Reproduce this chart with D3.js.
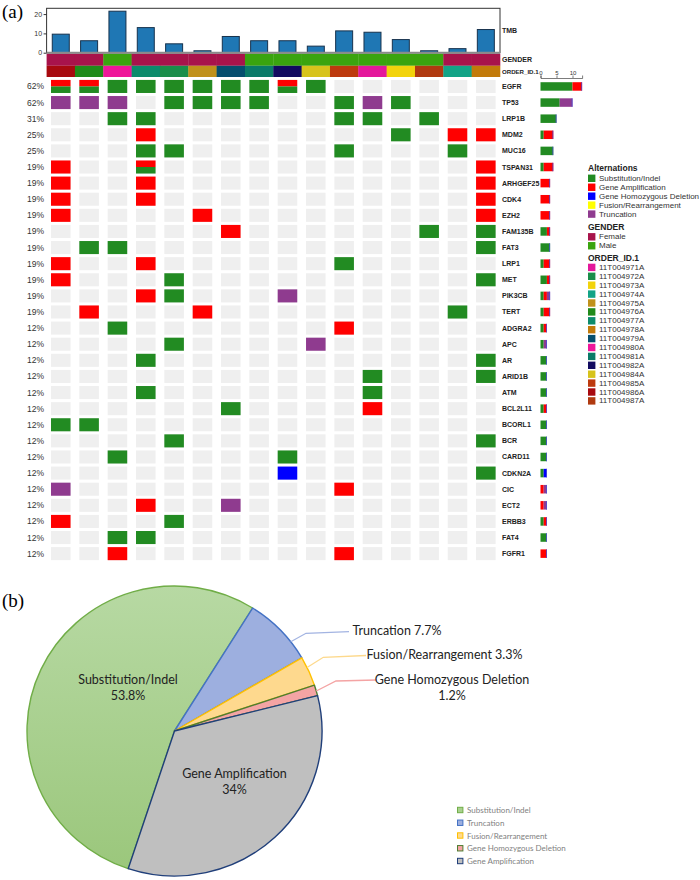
<!DOCTYPE html>
<html><head><meta charset="utf-8">
<script src="https://cdn.jsdelivr.net/npm/d3@7"></script>
<style>body{margin:0;background:#fff;} svg{display:block;}</style>
</head><body>
<svg id="c" width="700" height="880"></svg>
<script>
// ---------- DATA ----------
const sampleIds = ["11T004986A","11T004976A","11T004980A","11T004977A","11T004972A","11T004975A","11T004979A","11T004981A","11T004982A","11T004984A","11T004985A","11T004971A","11T004973A","11T004987A","11T004974A","11T004978A"];
const tmbValues = [9.6,6.2,21.5,13.0,4.6,1.0,8.4,6.2,6.2,3.4,11.3,10.6,6.8,1.0,2.1,12.0];
const sampleGender = ["Female","Female","Male","Female","Female","Female","Female","Male","Male","Male","Male","Male","Male","Male","Female","Female"];
const genes = ["EGFR","TP53","LRP1B","MDM2","MUC16","TSPAN31","ARHGEF25","CDK4","EZH2","FAM135B","FAT3","LRP1","MET","PIK3CB","TERT","ADGRA2","APC","AR","ARID1B","ATM","BCL2L11","BCORL1","BCR","CARD11","CDKN2A","CIC","ECT2","ERBB3","FAT4","FGFR1"];
const genePercent = ["62%","62%","31%","25%","25%","19%","19%","19%","19%","19%","19%","19%","19%","19%","19%","12%","12%","12%","12%","12%","12%","12%","12%","12%","12%","12%","12%","12%","12%","12%"];
// codes: S=Substitution/Indel, A=Gene Amplification, D=Gene Homozygous Deletion, F=Fusion, T=Truncation, X=Amplification+Substitution, .=none
const alterationRows = [
  "XXSSSSSSXS......",
  "TTT.SSSS..STS...",
  "..SS......SS.S..",
  "...A........S.AA",
  "...SS.....S...S.",
  "A..X...........A",
  "A..A...........A",
  "A..A...........A",
  "A....A.........A",
  "......A......S.S",
  ".SS............S",
  "A..A......S.....",
  "A...S..........S",
  "...AS...T.......",
  ".A...A........S.",
  "..S.......A.....",
  "....S....T......",
  "...S...........S",
  "...........S...S",
  "...S.......S....",
  "......S....A....",
  "SS..............",
  "....S..........S",
  "..S.....S.......",
  "........D......S",
  "T.........A.....",
  "...A..T.........",
  "A...S...........",
  "..SS............",
  "..A.......A....."
];
const altCodes = ["S","A","D","F","T"];
const altNames = ["Substitution/Indel","Gene Amplification","Gene Homozygous Deletion","Fusion/Rearrangement","Truncation"];
const altColors = ["#228b22","#ff0000","#0000ff","#ffff00","#8f3b8f"];
const genderNames = ["Female","Male"];
const genderColors = ["#a8134b","#3aa40f"];
const orderIds = ["11T004971A","11T004972A","11T004973A","11T004974A","11T004975A","11T004976A","11T004977A","11T004978A","11T004979A","11T004980A","11T004981A","11T004982A","11T004984A","11T004985A","11T004986A","11T004987A"];
const orderColors = ["#e4189b","#1a8e4a","#f2d30c","#12a386","#c0911a","#218a1a","#0c8b6c","#c27a0a","#054e6e","#ef169a","#0a7a68","#120b60","#d7c31b","#bd3a0e","#a8090f","#b03a10"];
const tmbTicks = [0,10,20];
const countTicks = [0,5,10];

const pieLabels = ["Substitution/Indel","Truncation","Fusion/Rearrangement","Gene Homozygous Deletion","Gene Amplification"];
const pieValues = [53.8, 7.7, 3.3, 1.2, 34];
const pieFills = ["#a9d18e","#9dafdf","#fed98e","#f4a4a4","#bfbfbf"];
const pieStrokes = ["#70ad47","#4472c4","#ffc000","#4f7d31","#203f7a"];
const pieLabelText = ["53.8%","7.7%","3.3%","1.2%","34%"];

// ---------- PANEL (a) ----------
const svg = d3.select("#c");
const SANS = "'Liberation Sans', Arial, sans-serif";
const SERIF = "'Liberation Serif', 'Times New Roman', serif";

svg.append("text").attr("x",2).attr("y",18).attr("font-family",SERIF).attr("font-size",19).text("(a)");

const X0 = 46.6, X1 = 500;
const xFull = d3.scaleBand().domain(d3.range(16)).range([X0, X1]);
const xCell = d3.scaleBand().domain(d3.range(16)).range([X0, X1]).paddingInner(0.31).paddingOuter(0.155);
const xBar = d3.scaleBand().domain(d3.range(16)).range([X0, X1]).paddingInner(0.4).paddingOuter(0.2);
const yTmb = d3.scaleLinear().domain([0,23]).range([52.7, 8.3]);

// TMB frame
svg.append("rect").attr("x",X0).attr("y",yTmb(23)).attr("width",X1-X0).attr("height",yTmb(0)-yTmb(23))
  .attr("fill","none").attr("stroke","#333").attr("stroke-width",1);
const yAx = svg.append("g").attr("transform",`translate(${X0},0)`)
  .call(d3.axisLeft(yTmb).tickValues(tmbTicks).tickSize(3).tickPadding(1.5));
yAx.select(".domain").remove();
yAx.selectAll("text").attr("font-family",SANS).attr("font-size",7).attr("fill","#333");
yAx.selectAll("line").attr("stroke","#333");

svg.append("g").selectAll("rect").data(tmbValues).join("rect")
  .attr("x",(d,i)=>xBar(i)).attr("y",d=>yTmb(d))
  .attr("width",xBar.bandwidth()).attr("height",d=>yTmb(0)-yTmb(d))
  .attr("fill","#1f77b4").attr("stroke","#17324d").attr("stroke-width",1);

// gender & order rows
const genderColor = d3.scaleOrdinal().domain(genderNames).range(genderColors);
const orderColor = d3.scaleOrdinal().domain(orderIds).range(orderColors);
svg.append("g").selectAll("rect").data(sampleGender).join("rect")
  .attr("x",(d,i)=>xFull(i)).attr("y",53.6).attr("width",xFull.bandwidth()+0.3).attr("height",12.2)
  .attr("fill",d=>genderColor(d));
svg.append("g").selectAll("rect").data(sampleIds).join("rect")
  .attr("x",(d,i)=>xFull(i)).attr("y",65.8).attr("width",xFull.bandwidth()+0.3).attr("height",11.2)
  .attr("fill",d=>orderColor(d));
svg.append("line").attr("x1",X0).attr("x2",X1).attr("y1",yTmb(0)).attr("y2",yTmb(0))
  .attr("stroke","#8a8a8a").attr("stroke-width",2);

// side labels
const sideLab = [["TMB",30,7],["GENDER",59.6,7],["ORDER_ID.1",71.6,6.1]];
svg.append("g").selectAll("text").data(sideLab).join("text")
  .attr("x",502).attr("y",d=>d[1]).attr("dominant-baseline","central")
  .attr("font-family",SANS).attr("font-weight","bold").attr("font-size",d=>d[2]).attr("fill","#222")
  .text(d=>d[0]);

// oncoprint grid
const yRow = d3.scaleBand().domain(genes).range([78.4, 78.4+30*16.11]).paddingInner(0.19).paddingOuter(0.095);
const altColor = d3.scaleOrdinal().domain(altCodes).range(altColors);
const grid = svg.append("g");
genes.forEach((g,gi)=>{
  const row = alterationRows[gi].split("");
  const y = yRow(g), h = yRow.bandwidth();
  const rg = grid.append("g");
  rg.selectAll("rect.bg").data(row).join("rect").attr("class","bg")
    .attr("x",(d,i)=>xCell(i)).attr("y",y).attr("width",xCell.bandwidth()).attr("height",h)
    .attr("fill","#efefef");
  row.forEach((c,i)=>{
    if(c===".") return;
    if(c==="X"){
      rg.append("rect").attr("x",xCell(i)).attr("y",y).attr("width",xCell.bandwidth()).attr("height",h/2)
        .attr("fill",altColor("A"));
      rg.append("rect").attr("x",xCell(i)).attr("y",y+h/2).attr("width",xCell.bandwidth()).attr("height",h/2)
        .attr("fill",altColor("S"));
    } else {
      rg.append("rect").attr("x",xCell(i)).attr("y",y).attr("width",xCell.bandwidth()).attr("height",h)
        .attr("fill",altColor(c));
    }
  });
});

// percent labels and gene labels
svg.append("g").selectAll("text").data(genes).join("text")
  .attr("x",44).attr("y",g=>yRow(g)+yRow.bandwidth()/2).attr("dominant-baseline","central")
  .attr("text-anchor","end").attr("font-family",SANS).attr("font-size",8.5).attr("fill","#333")
  .text((g,i)=>genePercent[i]);
svg.append("g").selectAll("text").data(genes).join("text")
  .attr("x",502).attr("y",g=>yRow(g)+yRow.bandwidth()/2).attr("dominant-baseline","central")
  .attr("font-family",SANS).attr("font-weight","bold").attr("font-size",7).attr("fill","#222")
  .text(g=>g);

// right stacked counts
const counts = alterationRows.map(r=>{
  const o = {S:0,A:0,D:0,F:0,T:0};
  r.split("").forEach(c=>{ if(c==="X"){o.S++;o.A++;} else if(c!=="."){o[c]++;} });
  return o;
});
const maxCount = d3.max(counts, o=>d3.sum(altCodes,k=>o[k]));
const xR = d3.scaleLinear().domain([0,maxCount]).range([540.5, 540.5+maxCount*3.2]);
const stack = d3.stack().keys(altCodes)(counts);
const barH = 8.5;
svg.append("g").selectAll("g").data(stack).join("g").attr("fill",s=>altColor(s.key))
  .selectAll("rect").data(s=>s).join("rect")
  .attr("x",d=>xR(d[0])).attr("width",d=>xR(d[1])-xR(d[0]))
  .attr("y",(d,i)=>yRow(genes[i])+(yRow.bandwidth()-barH)/2).attr("height",barH);
// thin edge at end of bars
svg.append("g").selectAll("rect").data(counts).join("rect")
  .attr("x",o=>xR(d3.sum(altCodes,k=>o[k]))-0.8).attr("width",0.8)
  .attr("y",(o,i)=>yRow(genes[i])+(yRow.bandwidth()-barH)/2).attr("height",barH)
  .attr("fill","#4b4bd6");
const rAx = svg.append("g").attr("transform","translate(0,78)")
  .call(d3.axisTop(xR).tickValues(countTicks).tickSize(2.5).tickPadding(1));
rAx.selectAll("text").attr("font-family",SANS).attr("font-size",6).attr("fill","#333");
rAx.selectAll("line,path").attr("stroke","#444").attr("stroke-width",0.7);

// legend
const LX = 588, LT = 599;
const lg = svg.append("g").attr("font-family",SANS);
function legTitle(t,y){ lg.append("text").attr("x",LX).attr("y",y).attr("dominant-baseline","central")
  .attr("font-weight","bold").attr("font-size",8.5).attr("fill","#222").text(t); }
function legItems(names,colors,y0,step){
  const g = lg.append("g");
  g.selectAll("rect").data(names).join("rect").attr("x",LX).attr("y",(d,i)=>y0+i*step-3.7)
    .attr("width",7.4).attr("height",7.4).attr("fill",(d,i)=>colors[i]);
  g.selectAll("text").data(names).join("text").attr("x",LT).attr("y",(d,i)=>y0+i*step)
    .attr("dominant-baseline","central").attr("font-size",8).attr("fill","#333").text(d=>d);
}
legTitle("Alternations",168.3);
legItems(altNames,altColors,178.3,8.95);
legTitle("GENDER",226.5);
legItems(genderNames,genderColors,236.8,8.95);
legTitle("ORDER_ID.1",257.5);
legItems(orderIds,orderColors,267.4,8.9);

// ---------- PANEL (b) ----------
svg.append("text").attr("x",2).attr("y",607).attr("font-family",SERIF).attr("font-size",19).text("(b)");

const cx = 174.5, cy = 731, R = 145, rx = 147.5;
const defs = svg.append("defs");
const gr = defs.append("linearGradient").attr("id","gSub").attr("x1",0).attr("y1",0).attr("x2",0).attr("y2",1);
gr.append("stop").attr("offset","0%").attr("stop-color","#b7d9a3");
gr.append("stop").attr("offset","100%").attr("stop-color","#9bc77c");

const startA = -161.7*Math.PI/180;
const pie = d3.pie().sort(null).value(d=>d).startAngle(startA).endAngle(startA+2*Math.PI);
const arcs = pie(pieValues);
const arc = d3.arc().innerRadius(0).outerRadius(R);
const pg = svg.append("g").attr("transform",`translate(${cx},${cy}) scale(${rx/R},1)`);
pg.selectAll("path").data(arcs).join("path")
  .attr("d",arc).attr("fill",(d,i)=> i===0 ? "url(#gSub)" : pieFills[i])
  .attr("stroke",(d,i)=>pieStrokes[i]).attr("stroke-width",1.4)
  .attr("vector-effect","non-scaling-stroke").attr("stroke-linejoin","round");

const PF = "Lato, 'Open Sans', sans-serif";
// inside labels
const inside = [[0,128,679,695],[4,234.5,773,789]];
inside.forEach(([i,x,y1,y2])=>{
  svg.append("text").attr("x",x).attr("y",y1).attr("text-anchor","middle").attr("dominant-baseline","central")
    .attr("font-family",PF).attr("font-size",12.5).attr("fill","#222").text(pieLabels[i]);
  svg.append("text").attr("x",x).attr("y",y2).attr("text-anchor","middle").attr("dominant-baseline","central")
    .attr("font-family",PF).attr("font-size",12.5).attr("fill","#222").text(pieLabelText[i]);
});
// outside labels with leader lines
const leaderColors = ["","#a3b4e2","#fdd98c","#f4a4a4",""];
const outside = [
  {i:1, ang:52, elbow:[306,633.3], end:[349,631.7], tx:352.5, ty:630, two:false},
  {i:2, ang:64, elbow:[323.3,657.3], end:[366,655.5], tx:366.5, ty:654.5, two:false},
  {i:3, ang:74, elbow:[336,681], end:[376.5,680], tx:452, ty:679, two:true}
];
outside.forEach(o=>{
  const a = o.ang*Math.PI/180;
  const sx = cx + rx*Math.sin(a), sy = cy - R*Math.cos(a);
  svg.append("polyline").attr("points",[[sx,sy],o.elbow,o.end].map(p=>p.join(",")).join(" "))
    .attr("fill","none").attr("stroke",leaderColors[o.i]).attr("stroke-width",1.3);
  if(!o.two){
    svg.append("text").attr("x",o.tx).attr("y",o.ty).attr("dominant-baseline","central")
      .attr("font-family",PF).attr("font-size",12.5).attr("fill","#222")
      .text(pieLabels[o.i]+" "+pieLabelText[o.i]);
  } else {
    svg.append("text").attr("x",o.tx).attr("y",o.ty).attr("text-anchor","middle").attr("dominant-baseline","central")
      .attr("font-family",PF).attr("font-size",12.5).attr("fill","#222").text(pieLabels[o.i]);
    svg.append("text").attr("x",o.tx).attr("y",o.ty+16.5).attr("text-anchor","middle").attr("dominant-baseline","central")
      .attr("font-family",PF).attr("font-size",12.5).attr("fill","#222").text(pieLabelText[o.i]);
  }
});

// pie legend
const pl = svg.append("g");
pl.selectAll("rect").data(pieLabels).join("rect")
  .attr("x",457.5).attr("y",(d,i)=>810+i*12.75-2.7).attr("width",5.4).attr("height",5.4)
  .attr("fill",(d,i)=>pieFills[i]).attr("stroke",(d,i)=>pieStrokes[i]).attr("stroke-width",1);
pl.selectAll("text").data(pieLabels).join("text")
  .attr("x",467).attr("y",(d,i)=>810+i*12.75).attr("dominant-baseline","central")
  .attr("font-family",PF).attr("font-size",8).attr("fill","#7f7f7f").text(d=>d);
</script>
</body></html>
